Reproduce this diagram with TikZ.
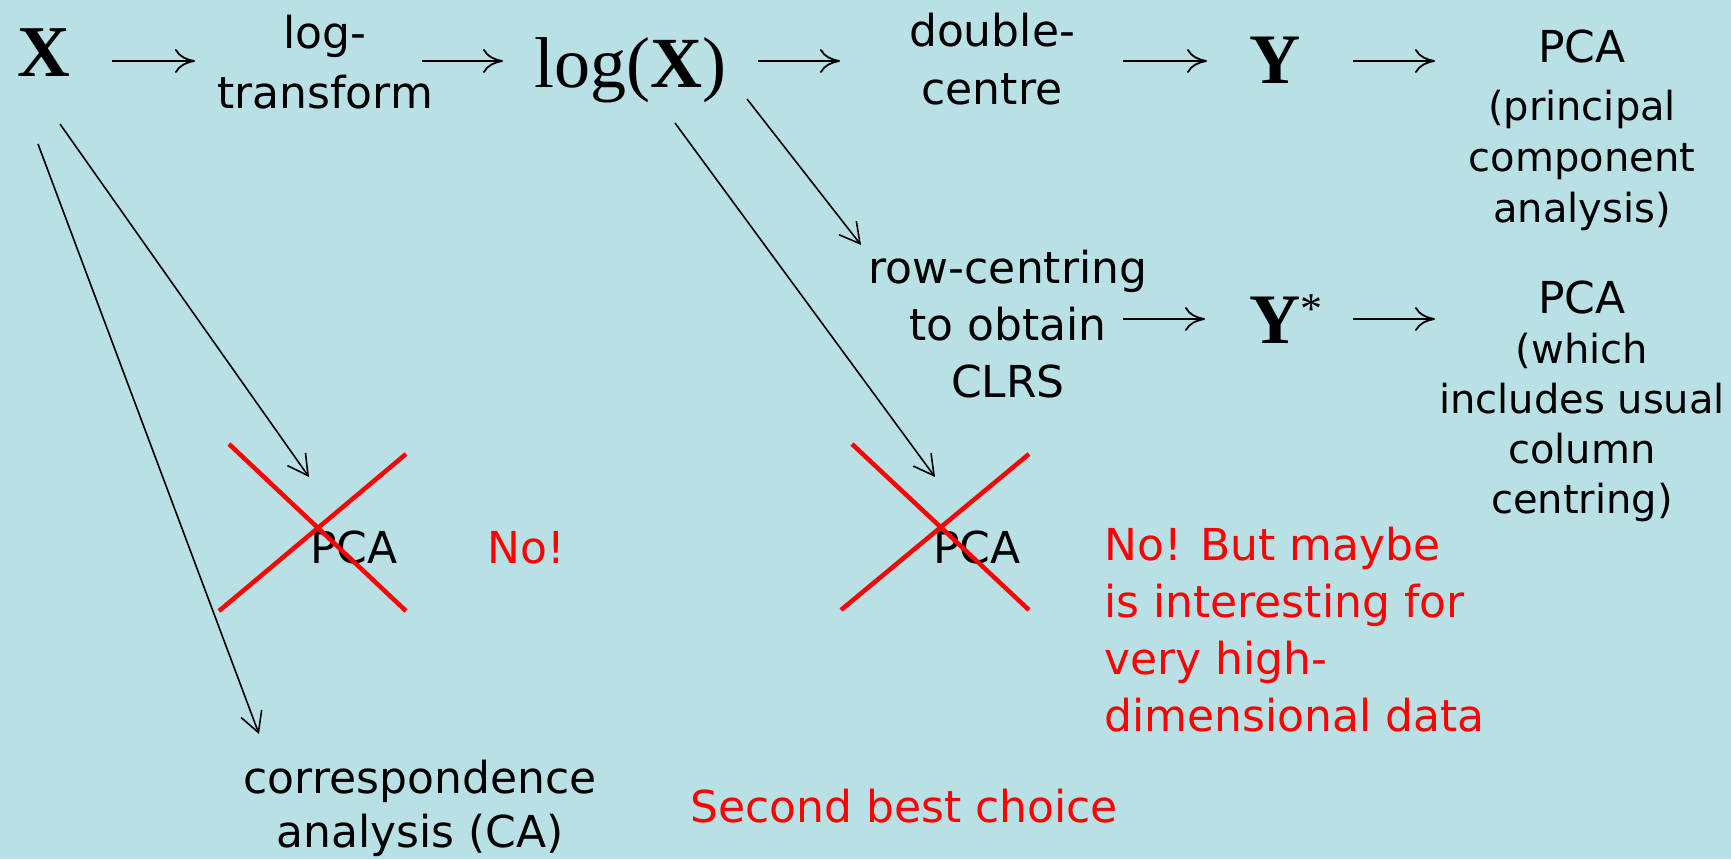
\documentclass[tikz,border=0pt]{standalone}
\usepackage{fontspec}
\setmainfont{DejaVu Sans}
\newfontfamily\tms{Liberation Serif}
\usetikzlibrary{arrows.meta}
\definecolor{bg}{RGB}{185,224,228}
\definecolor{myred}{RGB}{255,0,0}
\newcommand{\topstrut}{\rule{0pt}{40pt}}
\begin{document}
\begin{tikzpicture}[x=1pt,y=-1pt,
  txt/.style={inner sep=0pt, font=\fontsize{44}{57}\selectfont},
  redtxt/.style={txt, text=myred},
  mathtxt/.style={inner sep=0pt, anchor=base},
  harrow/.style={draw, line width=1.8pt, -{Computer Modern Rightarrow[length=20pt,width=24pt]}},
  darrow/.style={draw, line width=1.6pt, -{Straight Barb[length=20pt,width=22pt]}},
  cross/.style={draw=myred, line width=4.5pt}]
\useasboundingbox (0,0) rectangle (1731,859);
\fill[bg] (0,0) rectangle (1731,859);

% top row
\node[mathtxt] (X) at (44,77) {\tms\fontsize{73}{73}\selectfont\bfseries X};
\node[txt, align=center, anchor=north, font=\fontsize{44}{60}\selectfont] (logt) at (325,8) {\topstrut log-\\transform};
\node[mathtxt] (logX) at (630,87) {\tms\fontsize{72}{72}\selectfont log(\textbf{X})};
\node[txt, align=center, anchor=north, font=\fontsize{44}{58}\selectfont] (dc) at (992,6) {\topstrut double-\\centre};
\node[mathtxt] (Y) at (1275,83) {\tms\fontsize{71}{71}\selectfont\bfseries Y};
\node[txt, align=center, anchor=north, font=\fontsize{40}{51}\selectfont] (pca1) at (1582,22)
  {\topstrut{\fontsize{44}{51}\selectfont PCA}\\[7pt](principal\\component\\analysis)};

% second row
\node[txt, align=center, anchor=north, font=\fontsize{44}{57}\selectfont] (rc) at (1008,243) {\topstrut row-centring\\to obtain\\CLRS};
\node[inner sep=0pt, anchor=base west] (Ystar) at (1249,343)
  {\tms\fontsize{71}{71}\selectfont\bfseries Y\raisebox{20pt}{\mdseries\fontsize{44}{44}\selectfont *}};
\node[txt, align=center, anchor=north, font=\fontsize{40}{50}\selectfont] (pca2) at (1582,273)
  {\topstrut{\fontsize{44}{50}\selectfont PCA}\\(which\\includes usual\\column\\centring)};

% crossed out PCAs
\node[txt, anchor=base] (pcax1) at (354,563) {PCA};
\node[redtxt, anchor=base] (no1) at (526,563) {No!};
\node[txt, anchor=base] (pcax2) at (977,563) {PCA};
\node[redtxt, align=left, anchor=north west] (no2) at (1104,520)
  {\topstrut No! But maybe\\is interesting for\\very high-\\dimensional data};

% bottom
\node[txt, align=center, anchor=north, font=\fontsize{44}{54}\selectfont] (ca) at (420,753) {\topstrut correspondence\\analysis (CA)};
\node[redtxt, anchor=base] (sbc) at (904,822) {Second best choice};

% horizontal arrows
\coordinate (r1) at (0,61);
\coordinate (r2) at (0,319);
\draw[harrow, shorten <=68pt, shorten >=130pt] (X.center |- r1) -- (logt.center |- r1);
\draw[harrow, shorten <=97pt, shorten >=127pt] (logt.center |- r1) -- (logX.center |- r1);
\draw[harrow, shorten <=128pt, shorten >=152pt] (logX.center |- r1) -- (dc.center |- r1);
\draw[harrow, shorten <=131pt, shorten >=68pt] (dc.center |- r1) -- (Y.center |- r1);
\draw[harrow, shorten <=78pt, shorten >=147pt] (Y.center |- r1) -- (pca1.center |- r1);
\draw[harrow, shorten <=115pt, shorten >=44pt] (rc.center |- r2) -- (Ystar.west |- r2);
\draw[harrow, shorten <=104pt, shorten >=147pt] (Ystar.west |- r2) -- (pca2.center |- r2);

% diagonal arrows
\coordinate (d1s) at (60,124);  \coordinate (d1e) at (309,477);
\coordinate (d2s) at (38,144);  \coordinate (d2e) at (259,734);
\coordinate (d3s) at (675,123); \coordinate (d3e) at (935,477);
\coordinate (d4s) at (747,99);  \coordinate (d4e) at (861,245);
\draw[darrow] (d1s) -- (d1e);
\draw[darrow] (d2s) -- (d2e);
\draw[darrow] (d3s) -- (d3e);
\draw[darrow] (d4s) -- (d4e);

% red crosses
\draw[cross] (229,444) -- (406,611);
\draw[cross] (219,611) -- (406,454);
\draw[cross] (852,444) -- (1029,610);
\draw[cross] (841,610) -- (1029,454);
\end{tikzpicture}
\end{document}
